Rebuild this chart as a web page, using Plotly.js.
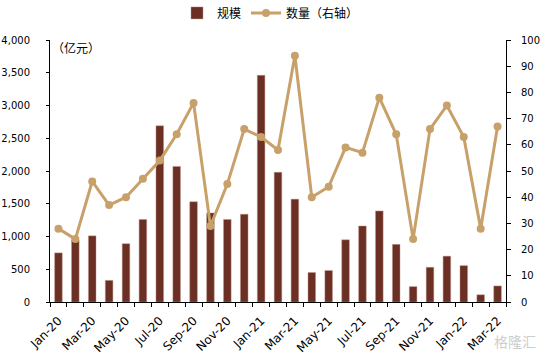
<!DOCTYPE html>
<html>
<head>
<meta charset="utf-8">
<script src="https://cdn.plot.ly/plotly-3.0.1.min.js"></script>
<style>html,body{margin:0;padding:0;background:#fff;}#chart{width:541px;height:358px;}</style>
</head>
<body>
<div id="chart"></div>
<script>
const months = ["Jan-20","Feb-20","Mar-20","Apr-20","May-20","Jun-20","Jul-20","Aug-20","Sep-20","Oct-20","Nov-20","Dec-20",
  "Jan-21","Feb-21","Mar-21","Apr-21","May-21","Jun-21","Jul-21","Aug-21","Sep-21","Oct-21","Nov-21","Dec-21",
  "Jan-22","Feb-22","Mar-22"];
const scale = [750,950,1010,330,890,1260,2690,2070,1530,1360,1260,1340,
  3460,1980,1570,450,480,950,1160,1390,880,235,530,700,555,110,245];
const count = [28,24,46,37,40,47,54,64,76,29,45,66,
  63,58,94,40,44,59,57,78,64,24,66,75,63,28,67];
const leftTicks = [0,500,1000,1500,2000,2500,3000,3500,4000];
const rightTicks = [0,10,20,30,40,50,60,70,80,90,100];
const seriesNames = ["规模","数量（右轴）"];
const unitLabel = "（亿元）";

const tickText = months.map((m,i)=> i%2===0 ? m : "");
const fontFam = "DejaVu Sans, Verdana, sans-serif";
const cjkFam = "Noto Sans CJK SC, DejaVu Sans, sans-serif";

const traces = [
  {type:"bar", x:months, y:scale, name:seriesNames[0],
   marker:{color:"#6B2F23", line:{color:"rgba(190,150,140,0.8)", width:0.6}},
   xaxis:"x", yaxis:"y"},
  {type:"scatter", mode:"lines+markers", x:months, y:count, name:seriesNames[1],
   line:{color:"#C8A06A", width:3},
   marker:{color:"#C8A06A", size:8},
   xaxis:"x", yaxis:"y2"}
];

const layout = {
  width:541, height:358,
  margin:{l:50, r:35, t:40, b:56},
  paper_bgcolor:"#fff", plot_bgcolor:"#fff",
  font:{family:fontFam, size:10, color:"#000"},
  bargap:0.55,
  showlegend:true,
  legend:{orientation:"h", x:0.5, xref:"container", xanchor:"center",
    y:0.964, yref:"container", yanchor:"middle",
    font:{family:cjkFam, size:12, color:"#000"}, itemwidth:30, traceorder:"normal",
    bgcolor:"rgba(0,0,0,0)"},
  xaxis:{type:"category", categoryorder:"array", categoryarray:months,
    range:[-0.5, months.length-0.5],
    tickmode:"array", tickvals:months, ticktext:tickText,
    tickson:"boundaries", ticks:"outside", ticklen:4, tickcolor:"#000", tickwidth:1,
    tickangle:-45, showline:true, linecolor:"#000", linewidth:1,
    showgrid:false, zeroline:false, tickfont:{size:12, family:fontFam},
    ticklabelstandoff:6},
  yaxis:{range:[0,4000], tickmode:"array", tickvals:leftTicks,
    tickformat:",d", ticks:"outside", ticklen:3, tickcolor:"#000",
    showline:true, linecolor:"#000", linewidth:1, showgrid:false, zeroline:false,
    tickfont:{size:10, family:fontFam}, ticklabelstandoff:14},
  yaxis2:{range:[0,100], tickmode:"array", tickvals:rightTicks,
    overlaying:"y", side:"right", anchor:"x",
    ticks:"outside", ticklen:4, tickcolor:"#000",
    showline:true, linecolor:"#000", linewidth:1, showgrid:false, zeroline:false,
    tickfont:{size:10, family:fontFam}, ticklabelstandoff:8},
  annotations:[
    {text:unitLabel, xref:"paper", yref:"paper", x:0.0, y:0.97, xanchor:"left", yanchor:"middle",
     showarrow:false, font:{family:cjkFam, size:12, color:"#000"}},
    {text:"格隆汇", xref:"paper", yref:"paper", x:1.07, y:-0.15, xanchor:"right", yanchor:"middle",
     showarrow:false, font:{family:cjkFam, size:14, color:"rgba(190,190,190,0.8)"}}
  ]
};

Plotly.newPlot("chart", traces, layout, {displayModeBar:false, staticPlot:true});
</script>
</body>
</html>
